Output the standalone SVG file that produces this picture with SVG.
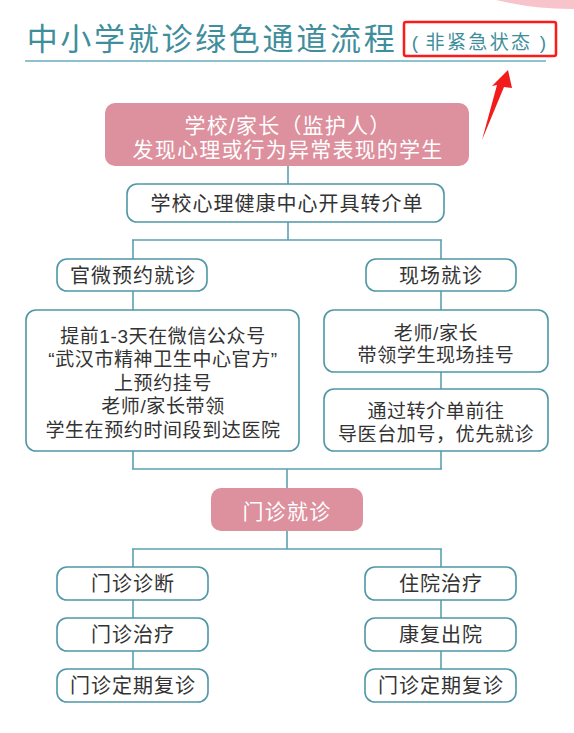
<svg xmlns="http://www.w3.org/2000/svg" width="574" height="733" viewBox="0 0 574 733">
<style>
  text { font-family: "Liberation Sans", "Noto Sans CJK SC", sans-serif; dominant-baseline: central; text-anchor: middle; }
  .box { fill: #ffffff; stroke: #4f97a7; stroke-width: 1.6; }
  .pink { fill: #dd909d; stroke: none; }
  .t { font-size: 19px; fill: #333333; letter-spacing: 0.6px; }
  .tb { font-size: 20px; fill: #333333; letter-spacing: 1px; }
  .tw { font-size: 21px; fill: #ffffff; letter-spacing: 1.2px; }
  .conn line { stroke: #5aa0b0; stroke-width: 1.6; }
</style>
<rect width="574" height="733" fill="#ffffff"/>
<circle cx="570" cy="-300" r="309" fill="#f8c4cb"/>

<g id="title">
  <text x="212" y="39" style="font-size:31px;fill:#3f8e9c;letter-spacing:2.7px">中小学就诊绿色通道流程</text>
  <line x1="25" y1="61" x2="546" y2="61" stroke="#8ec2cc" stroke-width="2"/>
</g>
<g id="subtitle">
  <rect x="404" y="22" width="152" height="34" rx="2" fill="none" stroke="#ff1a1a" stroke-width="2.5"/>
  <text x="415" y="42" style="font-size:19px;fill:#3f8e9c">(</text>
  <text x="479" y="42" style="font-size:19px;fill:#3f8e9c;letter-spacing:2.4px">非紧急状态</text>
  <text x="543" y="42" style="font-size:19px;fill:#3f8e9c">)</text>
</g>
<g id="red-arrow">
  <polygon points="508,70 512,88 504,87 482,140 497,85 492,86" fill="#f21c1c"/>
</g>

<g id="connectors" class="conn">
  <line x1="288" y1="166" x2="288" y2="184"/>
  <line x1="288" y1="222" x2="288" y2="240"/>
  <line x1="132" y1="240" x2="442" y2="240"/>
  <line x1="133" y1="240" x2="133" y2="259"/>
  <line x1="441" y1="240" x2="441" y2="259"/>
  <line x1="133" y1="291" x2="133" y2="310"/>
  <line x1="441" y1="291" x2="441" y2="310"/>
  <line x1="441" y1="372" x2="441" y2="389"/>
  <line x1="133" y1="451" x2="133" y2="469"/>
  <line x1="441" y1="451" x2="441" y2="469"/>
  <line x1="132" y1="469" x2="442" y2="469"/>
  <line x1="287" y1="469" x2="287" y2="488"/>
  <line x1="287" y1="531" x2="287" y2="549"/>
  <line x1="132" y1="549" x2="442" y2="549"/>
  <line x1="133" y1="549" x2="133" y2="567"/>
  <line x1="441" y1="549" x2="441" y2="567"/>
  <line x1="133" y1="600" x2="133" y2="618"/>
  <line x1="441" y1="600" x2="441" y2="618"/>
  <line x1="133" y1="651" x2="133" y2="669"/>
  <line x1="441" y1="651" x2="441" y2="669"/>
</g>

<g id="n-discover">
  <rect class="pink" x="105" y="103" width="364" height="63" rx="10"/>
  <text class="tw" x="288" y="125">学校/家长（监护人）</text>
  <text class="tw" x="288" y="149">发现心理或行为异常表现的学生</text>
</g>
<g id="n-referral">
  <rect class="box" x="127" y="184" width="317" height="38" rx="10"/>
  <text class="tb" x="287" y="204">学校心理健康中心开具转介单</text>
</g>
<g id="n-wechat">
  <rect class="box" x="57" y="259" width="150" height="32" rx="10"/>
  <text class="tb" x="133" y="276">官微预约就诊</text>
</g>
<g id="n-onsite">
  <rect class="box" x="366" y="259" width="150" height="32" rx="10"/>
  <text class="tb" x="441" y="276">现场就诊</text>
</g>
<g id="n-wechat-detail">
  <rect class="box" x="26" y="310" width="273" height="141" rx="10"/>
  <text class="t" x="163" y="336">提前1-3天在微信公众号</text>
  <text class="t" x="163" y="359">“武汉市精神卫生中心官方”</text>
  <text class="t" x="163" y="383">上预约挂号</text>
  <text class="t" x="163" y="406">老师/家长带领</text>
  <text class="t" x="163" y="430">学生在预约时间段到达医院</text>
</g>
<g id="n-onsite-register">
  <rect class="box" x="324" y="310" width="224" height="62" rx="10"/>
  <text class="t" x="436" y="333">老师/家长</text>
  <text class="t" x="436" y="355">带领学生现场挂号</text>
</g>
<g id="n-onsite-priority">
  <rect class="box" x="324" y="389" width="224" height="62" rx="10"/>
  <text class="t" x="436" y="411">通过转介单前往</text>
  <text class="t" x="436" y="434">导医台加号，优先就诊</text>
</g>
<g id="n-outpatient">
  <rect class="pink" x="211" y="488" width="152" height="43" rx="10"/>
  <text class="tw" x="287" y="511">门诊就诊</text>
</g>
<g id="n-diagnosis">
  <rect class="box" x="57" y="567" width="151" height="33" rx="10"/>
  <text class="tb" x="133" y="584">门诊诊断</text>
</g>
<g id="n-treatment">
  <rect class="box" x="57" y="618" width="151" height="33" rx="10"/>
  <text class="tb" x="133" y="635">门诊治疗</text>
</g>
<g id="n-followup-left">
  <rect class="box" x="57" y="669" width="151" height="33" rx="10"/>
  <text class="tb" x="133" y="686">门诊定期复诊</text>
</g>
<g id="n-inpatient">
  <rect class="box" x="365" y="567" width="151" height="33" rx="10"/>
  <text class="tb" x="441" y="584">住院治疗</text>
</g>
<g id="n-discharge">
  <rect class="box" x="365" y="618" width="151" height="33" rx="10"/>
  <text class="tb" x="441" y="635">康复出院</text>
</g>
<g id="n-followup-right">
  <rect class="box" x="365" y="669" width="151" height="33" rx="10"/>
  <text class="tb" x="441" y="686">门诊定期复诊</text>
</g>
</svg>
